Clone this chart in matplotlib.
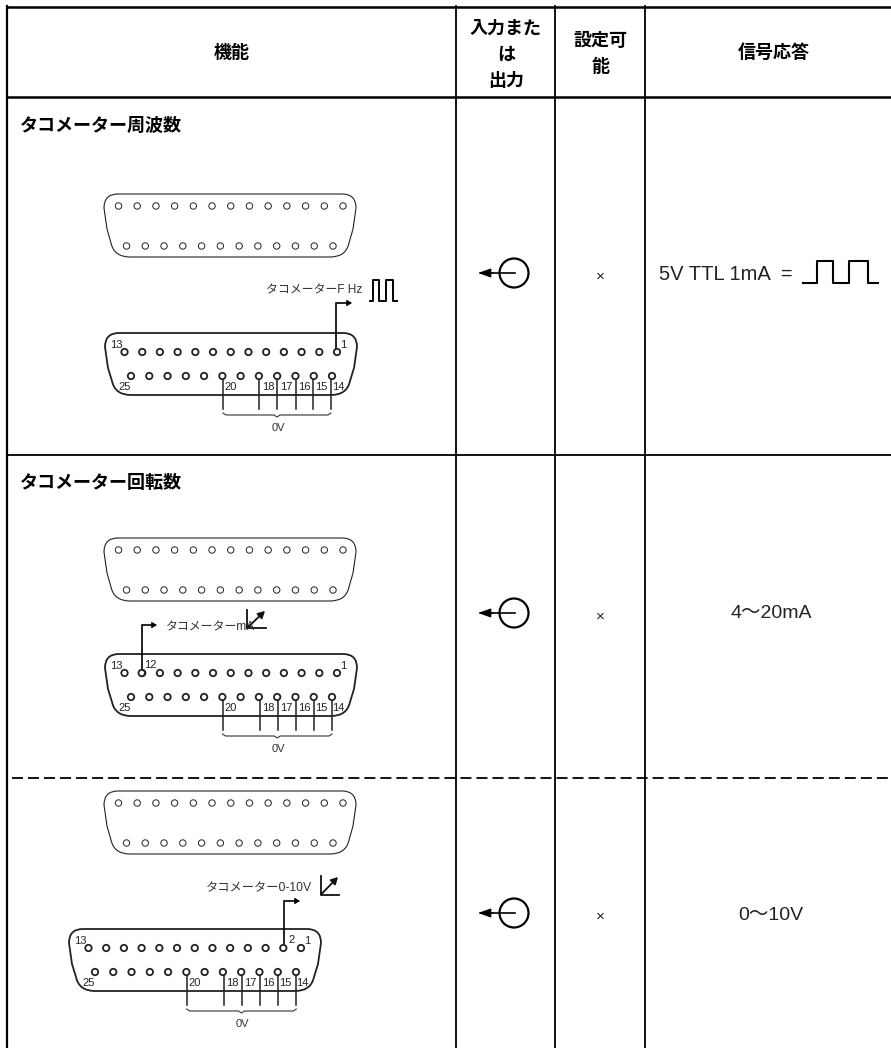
import matplotlib
matplotlib.use('Agg')
import matplotlib.pyplot as plt
from matplotlib.patches import Circle, PathPatch
from matplotlib.path import Path

plt.rcParams['font.family'] = ['Noto Sans CJK JP', 'DejaVu Sans']
latin = ['Liberation Sans', 'Noto Sans CJK JP']

# table layout (pixels)
col_lines = [456, 555, 645]
header_labels = ['機能', '入力また', 'は', '出力', '設定可', '能', '信号応答']
header_x = [232, 506, 506, 506, 600, 600, 774]
header_y = [52, 28, 54, 80, 40, 66, 52]
section_titles = ['タコメーター周波数', 'タコメーター回転数']
section_title_y = [125, 483]
signal_labels = ['4～20mA', '0～10V']
signal_y = [614, 915]
symbol_y = [273, 613, 913]
pin_labels = ['13', '25', '20', '18', '17', '16', '15', '14', '1']

fig = plt.figure(figsize=(8.91, 10.48), dpi=100)
ax = fig.add_axes([0, 0, 1, 1])
ax.set_xlim(0, 891)
ax.set_ylim(1048, 0)
ax.axis('off')


def conn_outline(x0, x1, y0, y1, lw):
    # D-sub shape, wide on top and narrow at the bottom
    verts = [(x0 + 14, y0), (x1 - 14, y0),
             (x1, y0), (x1, y0 + 14),
             (x1 - 3, y0 + 35), (x1 - 7, y1 - 14),
             (x1 - 10, y1), (x1 - 26, y1),
             (x0 + 26, y1), (x0 + 10, y1), (x0 + 7, y1 - 14),
             (x0 + 3, y0 + 35), (x0, y0 + 14),
             (x0, y0), (x0 + 14, y0)]
    codes = [Path.MOVETO, Path.LINETO,
             Path.CURVE3, Path.CURVE3,
             Path.LINETO, Path.LINETO,
             Path.CURVE3, Path.CURVE3,
             Path.LINETO, Path.CURVE3, Path.CURVE3,
             Path.LINETO, Path.LINETO,
             Path.CURVE3, Path.CURVE3]
    ax.add_patch(PathPatch(Path(verts, codes), fc='none', ec='#222222', lw=lw))


def holes(x0, x1, y, n, r, lw):
    step = (x1 - x0) / (n - 1)
    for i in range(n):
        ax.add_patch(Circle((x0 + i * step, y), r, fc='white', ec='#222222', lw=lw, zorder=3))


def plain_connector(y0):
    conn_outline(104, 356, y0, y0 + 63, 0.8)
    holes(118.5, 343, y0 + 12, 13, 3.2, 0.7)
    holes(126.5, 333, y0 + 52, 12, 3.2, 0.7)


def pin_connector(dx, y0, ytop, ybot, pins):
    conn_outline(105 + dx, 357 + dx, y0, y0 + 62, 1.3)
    holes(124.5 + dx, 337 + dx, ytop, 13, 3.2, 1.3)
    holes(131 + dx, 332 + dx, ybot, 12, 3.2, 1.3)
    yend = ybot + 33
    for p in pins:
        ax.plot([p + dx, p + dx], [ybot + 3, yend], color='#222222', lw=1.1)
    # brace below the 0V pins
    xa, xb = pins[0] + dx, pins[-1] + dx
    xm = (xa + xb) / 2
    yb = yend + 6
    ax.plot([xa, xa + 3, xm - 3, xm, xm + 3, xb - 3, xb],
            [yb - 2, yb, yb, yb + 2, yb, yb, yb - 2], color='#333333', lw=0.8)
    ax.text(xm + 1, yb + 13, '0V', fontsize=8, family=latin, ha='center', va='center', color='#333333')
    # numbers next to the holes
    lx = [116.5, 125, 231, 268, 286, 304, 321, 338, 343]
    ly = [ytop - 7, ybot + 11, ybot + 11, ybot + 11, ybot + 11, ybot + 11, ybot + 11, ybot + 11, ytop - 7]
    for t, x, y in zip(pin_labels, lx, ly):
        ax.text(x + dx, y, t, fontsize=8, family=latin, ha='center', va='center', color='#222222')


def out_arrow(x0, y0, y1, x1):
    ax.plot([x0, x0, x1 - 3], [y0, y1, y1], color='black', lw=1.2, solid_joinstyle='miter')
    ax.annotate('', xy=(x1, y1), xytext=(x1 - 5, y1),
                arrowprops=dict(arrowstyle='-|>,head_width=0.18,head_length=0.3', color='black', lw=0.8,
                                shrinkA=0, shrinkB=0))


def gauge(x, y0, y1, x1):
    ax.plot([x, x, x1], [y0, y1, y1], color='#111111', lw=1.3)
    ax.annotate('', xy=(x1 - 1, y0 + 1), xytext=(x, y1),
                arrowprops=dict(arrowstyle='-|>,head_width=0.22,head_length=0.4', color='#111111', lw=1.3,
                                shrinkA=0, shrinkB=0))


def io_symbol(y):
    ax.add_patch(Circle((514, y), 14.5, fc='none', ec='black', lw=1.6))
    ax.plot([488, 515], [y, y], color='black', lw=1.2)
    ax.annotate('', xy=(478, y), xytext=(493, y),
                arrowprops=dict(arrowstyle='-|>,head_width=0.28,head_length=0.8', color='black', lw=0.8,
                                shrinkA=0, shrinkB=0))
    ax.text(600, y + 3.5, '×', fontsize=11, family=latin, ha='center', va='center', color='#222222')


# table lines
ax.plot([7, 891], [6.5, 6.5], color='black', lw=1.8)
ax.plot([7, 891], [97, 97], color='black', lw=1.8)
ax.plot([7, 891], [455, 455], color='black', lw=1.3)
ax.plot([12, 891], [778, 778], color='black', lw=1.3, dashes=(6.1, 2.77))
ax.plot([7, 7], [6, 1048], color='black', lw=1.6)
for x in col_lines:
    ax.plot([x, x], [6, 1048], color='black', lw=1.3)

# header
for x, y, t in zip(header_x, header_y, header_labels):
    ax.text(x, y, t, fontsize=13, fontweight='bold', ha='center', va='center')

for t, y in zip(section_titles, section_title_y):
    ax.text(20, y, t, fontsize=13, fontweight='bold', ha='left', va='center')

# first row
plain_connector(194)
pin_connector(0, 333, 352, 376, [223, 259, 277, 295.5, 313, 331])
out_arrow(336, 350, 303, 352)
ax.text(362, 290, 'タコメーターF Hz', fontsize=8.6, family=latin, ha='right', va='center', color='#333333')
ax.plot([370, 373.3, 373.3, 379, 379, 386, 386, 392.7, 392.7, 396.7],
        [300.5, 300.5, 280, 280, 300.5, 300.5, 280, 280, 300.5, 300.5], color='black', lw=1.4)

# second row
plain_connector(538)
pin_connector(0, 654, 673, 697, [222.5, 259.5, 277.5, 296, 314, 332])
ax.add_patch(Circle((141.7, 673), 3.2, fc='white', ec='#222222', lw=1.3, zorder=4))
ax.text(150.7, 665, '12', fontsize=8, family=latin, ha='center', va='center', color='#222222')
out_arrow(141.7, 670, 625, 157)
ax.text(166, 627, 'タコメーターmA', fontsize=8.6, family=latin, ha='left', va='center', color='#333333')
gauge(247, 610, 628, 266)

# third row
plain_connector(791)
pin_connector(-36, 929, 948, 972, [222.7, 259.7, 278, 296.3, 314, 332.3])
ax.text(292, 940, '2', fontsize=8, family=latin, ha='center', va='center', color='#222222')
out_arrow(283.5, 945, 901, 300)
ax.text(312, 888, 'タコメーター0-10V', fontsize=8.8, family=latin, ha='right', va='center', color='#333333')
gauge(321, 876, 894.5, 339)

# input or output symbols
for y in symbol_y:
    io_symbol(y)

# signal column
ax.text(659, 274, '5V TTL 1mA  =', fontsize=14.5, family=latin,
        ha='left', va='center', color='#222222')
ax.plot([803, 816.5, 816.5, 833, 833, 849, 849, 868, 868, 878],
        [283, 283, 261, 261, 283, 283, 261, 261, 283, 283], color='black', lw=1.5)
for t, y in zip(signal_labels, signal_y):
    ax.text(771, y, t, fontsize=14, ha='center', va='center', color='#222222', family=latin)

fig.savefig('out.png', dpi=100)
